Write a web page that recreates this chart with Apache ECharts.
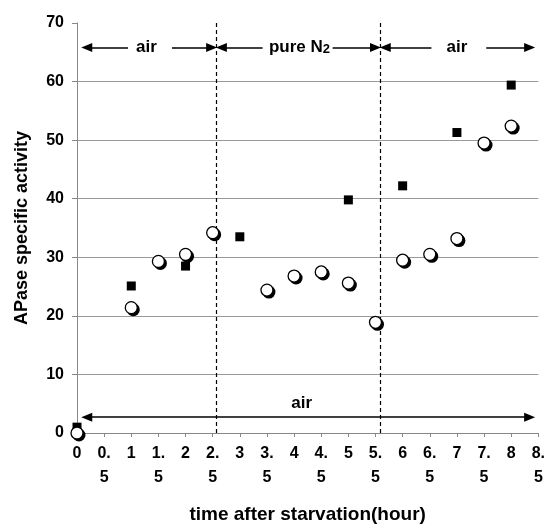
<!DOCTYPE html>
<html>
<head>
<meta charset="utf-8">
<script src="https://cdn.jsdelivr.net/npm/echarts@6/dist/echarts.min.js"></script>
<style>
html,body{margin:0;padding:0;background:#fff;}
#chart{width:548px;height:529px;}
</style>
</head>
<body>
<div id="chart"></div>
<script>
// ---- data ----
const squareX = [0, 1, 2, 3, 5, 6, 7, 8];
const squareY = [1.0, 25.1, 28.5, 33.5, 39.8, 42.2, 51.3, 59.4];
const circleX = [0, 1, 1.5, 2, 2.5, 3.5, 4, 4.5, 5, 5.5, 6, 6.5, 7, 7.5, 8];
const circleY = [0, 21.4, 29.3, 30.5, 34.2, 24.4, 26.8, 27.5, 25.6, 18.9, 29.5, 30.5, 33.2, 49.5, 52.4];
const xTickValues = [0, 0.5, 1, 1.5, 2, 2.5, 3, 3.5, 4, 4.5, 5, 5.5, 6, 6.5, 7, 7.5, 8, 8.5];
const xTickLabels = ['0', '0.\n5', '1', '1.\n5', '2', '2.\n5', '3', '3.\n5', '4', '4.\n5', '5', '5.\n5', '6', '6.\n5', '7', '7.\n5', '8', '8.\n5'];
const yTickLabels = ['0', '10', '20', '30', '40', '50', '60', '70'];
const phaseBoundaries = [2.57, 5.59];
const phaseLabels = ['air', 'pure N2', 'air'];

// ---- annotation geometry (data coords) ----
const topArrowY = 65.8;
const headOff = 0.09;
const topSegments = [
  { left: [0.09, 0.94], right: [1.75, 2.57], labelX: 1.28 },
  { left: [2.57, 3.42], right: [4.71, 5.59], labelX: 4.1 },
  { left: [5.59, 6.53], right: [7.54, 8.43], labelX: 7.0 }
];
const bottomArrow = { y: 2.7, from: 0.09, to: 8.43, labelX: 4.14, labelY: 5.1 };

const font = '"Liberation Sans", Arial, Helvetica, sans-serif';

const markLines = [];
topSegments.forEach(s => {
  markLines.push([
    { coord: [s.left[0] + headOff, topArrowY], symbol: 'triangle' },
    { coord: [s.left[1], topArrowY], symbol: 'none' }
  ]);
  markLines.push([
    { coord: [s.right[0], topArrowY], symbol: 'none' },
    { coord: [s.right[1] - headOff, topArrowY], symbol: 'triangle' }
  ]);
});
markLines.push([
  { coord: [bottomArrow.from + headOff, bottomArrow.y], symbol: 'triangle' },
  { coord: [bottomArrow.to - headOff, bottomArrow.y], symbol: 'triangle' }
]);

const annotationData = topSegments.map((s, i) => ({ value: [s.labelX, topArrowY], name: phaseLabels[i] }));
annotationData.push({ value: [bottomArrow.labelX, bottomArrow.labelY], name: 'air' });

const chart = echarts.init(document.getElementById('chart'));
chart.setOption({
  animation: false,
  backgroundColor: '#fff',
  grid: { left: 77, right: 9, top: 23, bottom: 91, containLabel: false },
  xAxis: {
    type: 'value', min: 0, max: 8.5, interval: 0.5,
    name: 'time after starvation(hour)', nameLocation: 'middle', nameGap: 72,
    nameTextStyle: { fontFamily: font, fontWeight: 'bold', fontSize: 19, color: '#000' },
    axisLine: { show: true, onZero: false, lineStyle: { color: '#888', width: 1 } },
    axisTick: { show: true, length: 4, lineStyle: { color: '#888' } },
    splitLine: { show: false },
    axisLabel: {
      margin: 9, fontFamily: font, fontWeight: 'bold', fontSize: 16, color: '#000', lineHeight: 24,
      showMinLabel: true, showMaxLabel: true,
      formatter: v => { const i = xTickValues.findIndex(t => Math.abs(t - v) < 1e-6); return i >= 0 ? xTickLabels[i] : ''; }
    }
  },
  yAxis: {
    type: 'value', min: 0, max: 70, interval: 10,
    name: 'APase specific activity', nameLocation: 'middle', nameGap: 46, nameRotate: 90,
    nameTextStyle: { fontFamily: font, fontWeight: 'bold', fontSize: 18, color: '#000' },
    axisLine: { show: true, lineStyle: { color: '#888', width: 1 } },
    axisTick: { show: true, length: 5, lineStyle: { color: '#888' } },
    splitLine: { show: true, showMinLine: false, showMaxLine: false, lineStyle: { color: '#999', width: 1 } },
    axisLabel: {
      margin: 13, fontFamily: font, fontWeight: 'bold', fontSize: 16, color: '#000',
      formatter: v => yTickLabels[Math.round(v / 10)]
    }
  },
  series: [
    {
      type: 'scatter', name: 'lines', data: [], silent: true, z: 1,
      markLine: {
        silent: true, animation: false, symbol: 'none', label: { show: false },
        lineStyle: { color: '#000', type: [4, 3], width: 1.2 },
        data: phaseBoundaries.map(x => ({ xAxis: x }))
      }
    },
    {
      type: 'scatter', name: 'arrows', data: [], silent: true, z: 2,
      markLine: {
        silent: true, animation: false, symbolSize: [9, 11], label: { show: false },
        lineStyle: { color: '#000', type: 'solid', width: 1.5 },
        data: markLines
      }
    },
    {
      type: 'scatter', name: 'squares', z: 3,
      symbol: 'rect', symbolSize: 9,
      itemStyle: { color: '#000', opacity: 1 },
      data: squareX.map((x, i) => [x, squareY[i]])
    },
    {
      type: 'scatter', name: 'circleShadow', z: 4,
      symbol: 'circle', symbolSize: 13, symbolOffset: [2, 2],
      itemStyle: { color: '#000', opacity: 1 },
      data: circleX.map((x, i) => [x, circleY[i]])
    },
    {
      type: 'scatter', name: 'circles', z: 5,
      symbol: 'circle', symbolSize: 12,
      itemStyle: { color: '#fff', borderColor: '#000', borderWidth: 1.3, opacity: 1 },
      data: circleX.map((x, i) => [x, circleY[i]])
    },
    {
      type: 'scatter', name: 'annotations', z: 6, silent: true,
      symbolSize: 1, itemStyle: { color: 'rgba(0,0,0,0)', opacity: 1 },
      label: {
        show: true, position: 'inside', color: '#000',
        fontFamily: font, fontWeight: 'bold', fontSize: 17,
        formatter: p => p.name === 'pure N2' ? 'pure N{s|2}' : p.name,
        rich: { s: { fontFamily: font, fontWeight: 'bold', fontSize: 13, color: '#000', padding: [4, 0, 0, 0] } }
      },
      data: annotationData
    }
  ]
});
</script>
</body>
</html>
